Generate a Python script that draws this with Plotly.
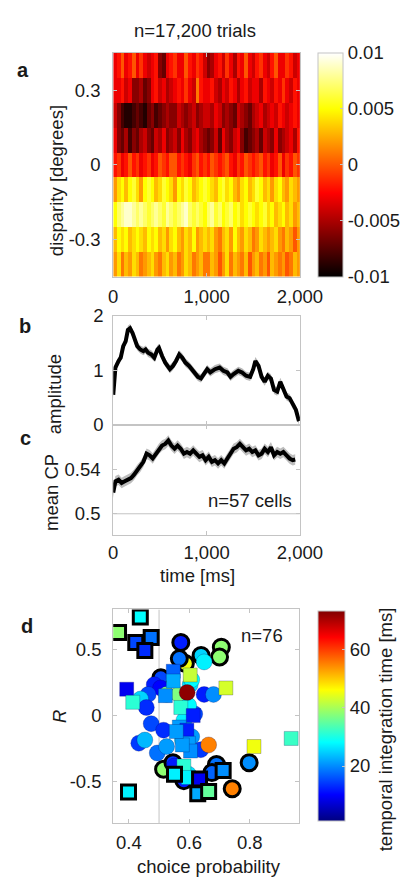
import plotly.graph_objects as go

# ---------------- data ----------------
# panel a: disparity x time kernel (values in units of 0.001)
disparity_deg = [0.4, 0.3, 0.2, 0.1, 0.0, -0.1, -0.2, -0.3, -0.4]
time_bins_ms = list(range(20, 2000, 40))  # 50 bin centres of 40 ms
heat_milli = [
    [-3,-2,0,-3,-2,0,-3,-1,-3,-4,-3,-2,-6,-7,-3,-2,-1,-3,-3,0,-2,-3,-1,-2,-4,
     -6,-5,-3,-2,-4,-1,-3,-5,-2,-3,0,-3,-4,-2,-1,-3,-4,-2,0,-3,-3,-1,-2,-4,-3],
    [-3,-3,-2,-4,-3,-6,-6,-5,-7,-6,-3,-2,-4,-3,-5,-4,-3,-2,-3,-1,-3,-4,1,-2,-3,
     -3,-2,-4,-5,-3,-4,-2,-3,-5,-3,-2,-4,-3,-3,-5,-2,-3,-4,-2,-3,-1,-3,-4,-2,-3],
    [-4,-6,-8,-9,-9,-8,-7,-8,-9,-7,-6,-8,-7,-6,-5,-6,-6,-4,-5,-6,-5,-4,-6,-5,-4,
     -4,-5,-3,-4,-6,-5,-6,-7,-4,-5,-6,-7,-5,-4,-3,-5,-4,-3,-4,-2,-3,-4,-3,-2,-3],
    [-3,-6,-7,-5,-8,-6,-7,-5,-4,-6,-7,-4,-5,-3,-6,-5,-4,-6,-3,-5,-6,-4,-3,-5,-6,
     -7,-6,-4,-7,-3,-5,-6,-4,-3,-6,-8,-7,-6,-5,-7,-4,-5,-6,-3,-6,-5,-4,-3,-5,-2],
    [-2,-1,-3,-2,0,-2,-1,-3,-2,-1,-3,-2,0,-1,-2,0,0,-2,-1,-2,-3,-1,0,-2,-1,
     -2,0,-1,-2,-1,0,-2,-3,-1,-2,0,-1,-2,-1,0,-2,-1,-3,-2,0,-3,-1,-2,0,-1],
    [2,4,5,3,5,6,4,2,5,6,5,3,4,6,5,4,2,5,4,6,5,3,4,5,6,
     5,4,3,5,6,4,5,3,2,4,5,3,4,6,5,3,4,2,4,5,3,2,4,3,2],
    [5,7,8,9,9,8,7,8,7,6,7,8,7,6,8,7,6,7,8,9,7,6,7,6,5,
     7,8,6,7,5,6,7,5,6,4,5,6,5,4,5,6,4,5,3,4,5,3,4,2,3],
    [3,5,4,5,3,4,5,4,3,5,4,5,3,4,2,4,5,3,2,4,3,5,2,3,4,
     3,4,2,1,3,4,2,5,3,2,4,3,1,2,4,3,2,3,4,2,1,3,2,0,2],
    [2,4,1,3,2,4,3,1,2,3,4,2,1,3,4,2,3,1,2,4,3,1,2,3,1,
     1,3,2,0,2,4,1,3,2,1,3,0,2,3,1,2,0,3,2,1,2,0,1,3,2],
]
heat_values = [[v / 1000.0 for v in row] for row in heat_milli]

# panel b: amplitude over time
amp_time = [0, 23, 57, 80, 107, 133, 157, 180, 207, 233, 257, 290, 323, 347, 373, 407,
            440, 473, 490, 523, 557, 607, 640, 673, 707, 740, 773, 813, 857, 907, 940,
            973, 1007, 1040, 1090, 1140, 1180, 1223, 1257, 1290, 1340, 1380, 1423, 1467,
            1500, 1523, 1557, 1590, 1623, 1657, 1690, 1723, 1757, 1790, 1823, 1857, 1890,
            1923, 1957, 1990]
amp_val = [0.55, 1.05, 1.17, 1.23, 1.44, 1.53, 1.74, 1.77, 1.68, 1.53, 1.44, 1.38, 1.35,
           1.38, 1.32, 1.29, 1.23, 1.38, 1.41, 1.26, 1.14, 1.02, 1.08, 1.17, 1.29, 1.23,
           1.14, 1.08, 0.99, 0.88, 0.85, 0.93, 1.02, 0.96, 1.02, 1.05, 0.99, 0.96, 0.88,
           0.93, 0.99, 0.96, 0.90, 0.88, 1.02, 1.17, 1.08, 0.88, 0.79, 0.90, 0.85, 0.64,
           0.61, 0.79, 0.67, 0.52, 0.49, 0.37, 0.28, 0.07]
amp_err = 0.075

# panel c: mean choice probability over time
cp_time = [0, 23, 57, 90, 123, 157, 190, 223, 257, 290, 323, 357, 390, 423, 457, 490,
           523, 557, 590, 623, 657, 690, 723, 757, 790, 823, 857, 890, 923, 957, 990,
           1023, 1057, 1090, 1123, 1157, 1190, 1223, 1257, 1290, 1323, 1357, 1390, 1423,
           1457, 1490, 1523, 1557, 1590, 1623, 1657, 1690, 1723, 1757, 1790, 1823, 1857,
           1890, 1923, 1950]
cp_val = [0.5193, 0.5296, 0.5311, 0.5281, 0.5296, 0.5311, 0.5326, 0.5356, 0.5400, 0.5430,
          0.5474, 0.5548, 0.5533, 0.5504, 0.5548, 0.5593, 0.5622, 0.5637, 0.5667, 0.5622,
          0.5593, 0.5622, 0.5593, 0.5548, 0.5563, 0.5548, 0.5578, 0.5548, 0.5519, 0.5533,
          0.5489, 0.5519, 0.5474, 0.5489, 0.5459, 0.5489, 0.5459, 0.5504, 0.5548, 0.5593,
          0.5607, 0.5637, 0.5607, 0.5578, 0.5593, 0.5563, 0.5578, 0.5533, 0.5548, 0.5593,
          0.5563, 0.5607, 0.5533, 0.5563, 0.5548, 0.5563, 0.5533, 0.5504, 0.5489, 0.5495]
cp_err = 0.0048

# panel d: per-cell choice probability vs R, coloured by integration time
cell_cp = [0.572, 0.587, 0.567, 0.639, 0.706, 0.700, 0.506, 0.798, 0.742, 0.690, 0.675,
           0.515, 0.546, 0.582,
           0.484, 0.505, 0.464, 0.439, 0.458, 0.474, 0.515, 0.433, 0.453, 0.494, 0.525,
           0.525, 0.565, 0.577, 0.608, 0.638, 0.551, 0.597, 0.649, 0.603, 0.608, 0.649,
           0.680, 0.618, 0.582, 0.598, 0.664, 0.593,
           0.393, 0.413, 0.721, 0.603, 0.547, 0.547, 0.521, 0.572, 0.613, 0.567, 0.592,
           0.597, 0.604, 0.577, 0.582, 0.597, 0.814, 0.937, 0.557,
           0.366, 0.438, 0.423, 0.474, 0.453, 0.399, 0.551, 0.634, 0.628, 0.664, 0.712]
cell_r = [0.551, 0.392, 0.429, 0.453, 0.515, 0.441, 0.285, -0.355, -0.551, -0.368, -0.429,
          -0.404, -0.355, -0.490,
          0.233, 0.208, 0.159, 0.125, 0.061, -0.061, -0.110, -0.208, -0.184, -0.282, -0.233,
          0.159, 0.159, -0.184, -0.159, -0.257, -0.380, -0.441, 0.404, 0.233, 0.270, 0.159,
          0.159, 0.012, -0.037, 0.076, -0.221, 0.174,
          0.199, 0.100, 0.208, 0.306, 0.334, 0.260, 0.150, 0.061, 0.000, -0.086, -0.110,
          -0.208, -0.267, -0.221, -0.380, -0.466, -0.233, -0.172, -0.120,
          0.625, 0.743, 0.551, 0.588, 0.490, -0.576, -0.441, -0.478, -0.588, -0.571, -0.414]
cell_tint = [12, 45, 18, 25, 38, 38, 15, 20, 55, 18, 17, 38, 14, 12,
             12, 10, 15, 25, 13, 15, 13, 14, 23, 18, 21, 37, 37, 26, 21, 14, 12, 26, 27,
             26, 28, 12, 20, 15, 27, 28, 55, 72,
             9, 31, 43, 42, 17, 22, 20, 31, 12, 21, 12, 21, 20, 21, 31, 27, 45, 32, 21,
             38, 28, 15, 18, 13, 27, 27, 9, 22, 35, 20]
cell_shape = (["circle"] * 14 + ["circle"] * 28 + ["square"] * 19 + ["square"] * 11)
cell_sig = ([1] * 14 + [0] * 28 + [0] * 19 + [1] * 11)

# ---------------- styling ----------------
FONT = "Liberation Sans, Arial, sans-serif"
FS = 18.5
W, H = 419, 886
AX = "#c4c4c4"
TXT = "#1a1a1a"

hot = [[0.0, "rgb(0,0,0)"], [0.375, "rgb(255,0,0)"], [0.75, "rgb(255,255,0)"],
       [1.0, "rgb(255,255,255)"]]
jet = [[0.0, "rgb(0,0,128)"], [0.125, "rgb(0,0,255)"], [0.375, "rgb(0,255,255)"],
       [0.625, "rgb(255,255,0)"], [0.875, "rgb(255,0,0)"], [1.0, "rgb(128,0,0)"]]


def px(x):
    return x / W


def py(y):
    return 1 - y / H


fig = go.Figure()

# panel a heatmap
fig.add_trace(go.Heatmap(
    x=time_bins_ms, y=disparity_deg, z=heat_values, colorscale=hot,
    zmin=-0.01, zmax=0.01, xaxis="x", yaxis="y",
    colorbar=dict(x=px(335), xanchor="left", y=py(43), yanchor="top",
                  len=229 / H, lenmode="fraction", thickness=25, thicknessmode="pixels",
                  xpad=0, ypad=0, outlinewidth=1, outlinecolor=AX,
                  ticks="inside", ticklen=3, tickcolor=AX,
                  tickvals=[-0.01, -0.005, 0, 0.005, 0.01],
                  ticktext=["-0.01", "-0.005", "0", "0.005", "0.01"],
                  tickfont=dict(family=FONT, size=FS, color=TXT)),
))

# panel b
amp_hi = [v + amp_err for v in amp_val]
amp_lo = [v - amp_err for v in amp_val]
fig.add_trace(go.Scatter(x=amp_time, y=amp_hi, mode="lines", line=dict(width=0, color="#bbb"),
                         xaxis="x2", yaxis="y2", hoverinfo="skip"))
fig.add_trace(go.Scatter(x=amp_time, y=amp_lo, mode="lines", line=dict(width=0, color="#bbb"),
                         fill="tonexty", fillcolor="rgb(185,185,185)",
                         xaxis="x2", yaxis="y2", hoverinfo="skip"))
fig.add_trace(go.Scatter(x=amp_time, y=amp_val, mode="lines",
                         line=dict(width=4, color="black"), xaxis="x2", yaxis="y2"))

# panel c
cp_hi = [v + cp_err for v in cp_val]
cp_lo = [v - cp_err for v in cp_val]
fig.add_trace(go.Scatter(x=cp_time, y=cp_hi, mode="lines", line=dict(width=0, color="#bbb"),
                         xaxis="x3", yaxis="y3", hoverinfo="skip"))
fig.add_trace(go.Scatter(x=cp_time, y=cp_lo, mode="lines", line=dict(width=0, color="#bbb"),
                         fill="tonexty", fillcolor="rgb(190,190,190)",
                         xaxis="x3", yaxis="y3", hoverinfo="skip"))
fig.add_trace(go.Scatter(x=cp_time, y=cp_val, mode="lines",
                         line=dict(width=4, color="black"), xaxis="x3", yaxis="y3"))

# panel d scatter
sizes = [16 if s == "circle" else 14 for s in cell_shape]
lw = [3 if g else 0.8 for g in cell_sig]
lc = ["black" if g else "rgba(0,0,80,0.3)" for g in cell_sig]
fig.add_trace(go.Scatter(
    x=cell_cp, y=cell_r, mode="markers", xaxis="x4", yaxis="y4",
    marker=dict(symbol=cell_shape, size=sizes, color=cell_tint, colorscale=jet,
                cmin=1, cmax=73, opacity=1,
                line=dict(width=lw, color=lc),
                colorbar=dict(x=px(335), xanchor="left", y=py(615), yanchor="top",
                              len=215 / H, lenmode="fraction", thickness=27,
                              thicknessmode="pixels", xpad=0, ypad=0,
                              outlinewidth=1, outlinecolor=AX,
                              ticks="inside", ticklen=3, tickcolor=AX,
                              tickvals=[20, 40, 60],
                              tickfont=dict(family=FONT, size=FS, color=TXT))),
))


def axis(domain, anchor, rng, **kw):
    d = dict(domain=domain, anchor=anchor, range=rng, showline=True, linecolor=AX,
             linewidth=1, mirror="ticks", ticks="inside", ticklen=4, tickcolor=AX,
             showgrid=False, zeroline=False,
             tickfont=dict(family=FONT, size=FS, color=TXT))
    d.update(kw)
    return d


xdom = [px(116), px(316)]
time_ticks = dict(tickvals=[0, 1000, 2000], ticktext=["0", "1,000", "2,000"])

fig.update_layout(
    width=W, height=H, margin=dict(l=0, r=0, t=0, b=0), autosize=False,
    paper_bgcolor="white", plot_bgcolor="white", showlegend=False,
    font=dict(family=FONT, size=FS, color=TXT),
    xaxis=axis(xdom, "y", [0, 2000], ticklabelstandoff=3, **time_ticks),
    yaxis=axis([py(272), py(43)], "x", [-0.45, 0.45], tickvals=[-0.3, 0, 0.3],
               ticktext=["-0.3", "0", "0.3"], ticklabelstandoff=8),
    xaxis2=axis(xdom, "y2", [0, 2000], showticklabels=False, tickvals=[0, 1000, 2000]),
    yaxis2=axis([py(424), py(312)], "x2", [0, 2], tickvals=[0, 1, 2], ticklabelstandoff=5),
    xaxis3=axis(xdom, "y3", [0, 2000], ticklabelstandoff=1, **time_ticks),
    yaxis3=axis([py(537), py(424)], "x3", [0.4804, 0.581], tickvals=[0.5, 0.54],
                ticktext=["0.5", "0.54"], ticklabelstandoff=8),
    xaxis4=axis([px(116), px(315)], "y4", [0.3485, 0.9627], tickvals=[0.4, 0.6, 0.8],
                ticklabelstandoff=3),
    yaxis4=axis([py(832), py(613)], "x4", [-0.811, 0.799], tickvals=[-0.5, 0, 0.5],
                ticktext=["-0.5", "0", "0.5"], ticklabelstandoff=7),
    shapes=[
        dict(type="line", xref="x3", yref="y3", x0=0, x1=2000, y0=0.5, y1=0.5,
             line=dict(color=AX, width=1), layer="below"),
        dict(type="line", xref="x4", yref="y4", x0=0.5, x1=0.5, y0=-0.811, y1=0.799,
             line=dict(color=AX, width=1), layer="below"),
    ],
)


def ann(text, x, y, angle=0, bold=False, italic=False, size=FS):
    t = text
    if bold:
        t = "<b>" + t + "</b>"
    if italic:
        t = "<i>" + t + "</i>"
    fig.add_annotation(text=t, x=px(x), y=py(y), xref="paper", yref="paper",
                       showarrow=False, textangle=angle, xanchor="center", yanchor="middle",
                       font=dict(family=FONT, size=size, color=TXT))


ann("n=17,200 trials", 204, 20)
ann("a", 19, 60, bold=True, size=20)
ann("b", 21, 323, bold=True, size=20)
ann("c", 22, 437, bold=True, size=20)
ann("d", 24, 630, bold=True, size=20)
ann("disparity [degrees]", 56, 174, angle=-90)
ann("amplitude", 53, 392, angle=-90)
ann("mean CP", 50, 493, angle=-90)
ann("time [ms]", 206, 578)
ann("n=57 cells", 263, 501)
ann("n=76", 275, 640)
ann("R", 59, 723, angle=-90, italic=True)
ann("choice probability", 219, 876)
ann("temporal integration time [ms]", 408, 736, angle=-90)

fig.write_html("out.html")
